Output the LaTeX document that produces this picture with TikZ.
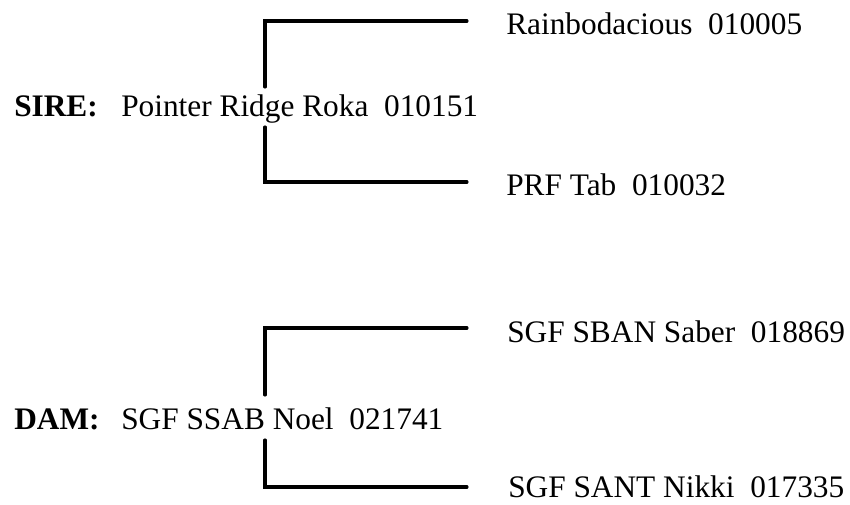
\documentclass[tikz,border=0pt]{standalone}
\usepackage{fontspec}
\setmainfont{Liberation Serif}
\begin{document}
\begin{tikzpicture}[x=0.75pt,y=-0.75pt,
  lbl/.style={anchor=base west,inner sep=0pt,font=\fontsize{23.5}{28}\selectfont},
  key/.style={lbl,font=\fontsize{23.5}{28}\selectfont\bfseries},
  link/.style={line width=2.3pt,line cap=round,line join=miter}]
\useasboundingbox (0,0) rectangle (850,504);
% text
\node[key] (sirekey) at (14,116) {SIRE:};
\node[lbl] (sire) at (121,116) {Pointer Ridge Roka~~010151};
\node[lbl] (s1) at (506,34) {Rainbodacious~~010005};
\node[lbl] (s2) at (506,195) {PRF Tab~~010032};
\node[key] (damkey) at (14,429) {DAM:};
\node[lbl] (dam) at (121,429) {SGF SSAB Noel~~021741};
\node[lbl] (d1) at (507,342) {SGF SBAN Saber~~018869};
\node[lbl] (d2) at (508,497) {SGF SANT Nikki~~017335};
% connector ends
\coordinate (sup) at (265,87);
\coordinate (sdn) at (265,127);
\coordinate (s1e) at (467,21);
\coordinate (s2e) at (467,182);
\coordinate (dup) at (265,395);
\coordinate (ddn) at (265,440);
\coordinate (d1e) at (467,328);
\coordinate (d2e) at (467,487);
\draw[link] (sup) |- (s1e);
\draw[link] (sdn) |- (s2e);
\draw[link] (dup) |- (d1e);
\draw[link] (ddn) |- (d2e);
\end{tikzpicture}
\end{document}
